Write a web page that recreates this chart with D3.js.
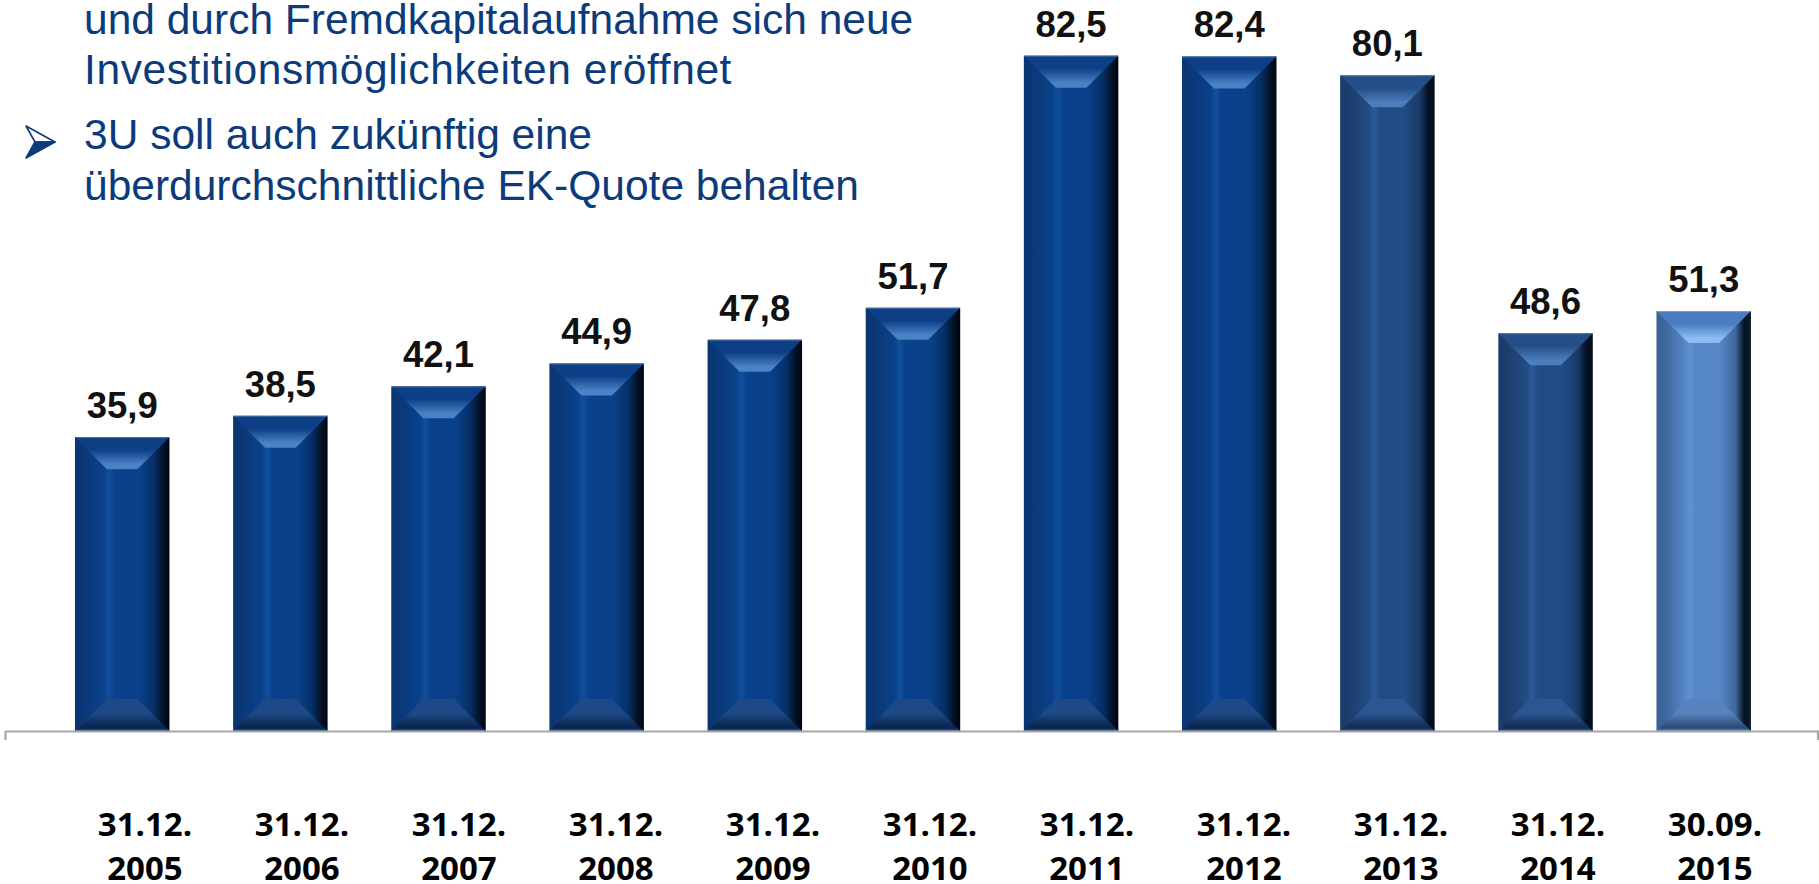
<!DOCTYPE html>
<html>
<head>
<meta charset="utf-8">
<script src="https://cdn.jsdelivr.net/npm/d3@7"></script>
<style>
  html, body { margin: 0; padding: 0; background: #ffffff; }
  svg { display: block; }
</style>
</head>
<body>
<svg id="chart" width="1819" height="884"></svg>
<script>
// ---------------- data ----------------
const categories = ["31.12.2005","31.12.2006","31.12.2007","31.12.2008","31.12.2009","31.12.2010","31.12.2011","31.12.2012","31.12.2013","31.12.2014","30.09.2015"];
const dayLabels  = ["31.12.","31.12.","31.12.","31.12.","31.12.","31.12.","31.12.","31.12.","31.12.","31.12.","30.09."];
const yearLabels = ["2005","2006","2007","2008","2009","2010","2011","2012","2013","2014","2015"];
const equityRatio = [35.9, 38.5, 42.1, 44.9, 47.8, 51.7, 82.5, 82.4, 80.1, 48.6, 51.3];
const textLines = [
  "und durch Fremdkapitalaufnahme sich neue",
  "Investitionsmöglichkeiten eröffnet",
  "3U soll auch zukünftig eine",
  "überdurchschnittliche EK-Quote behalten"
];

// ---------------- layout ----------------
const W = 1819, H = 884;
const baseY = 731;
const svg = d3.select("#chart");

const x = d3.scaleBand().domain(categories).range([11.7, 1814.2]).paddingInner(0.4025).paddingOuter(0.4);
const y = d3.scaleLinear().domain([0, 89.3]).range([baseY, 0]);
const xLab = d3.scalePoint().domain(categories).range([145, 1715]);

const fmt = d3.formatLocale({decimal: ",", thousands: ".", grouping: [3], currency: ["", "€"]}).format(".1f");

// ---------------- styles ----------------
const palettes = {
  A: {left:"#0b3674", streak:"#114f9e", mid:"#0a418a", dark:"#062e64", edge:"#000612",
      bevTop:"#0d3f86", bevLight:"#4a82c6", botTop:"#1d4a86", botDark:"#0b2650", botLine:"#3564a0"},
  B: {left:"#1a3c6a", streak:"#2c5a96", mid:"#224c84", dark:"#183b68", edge:"#040a16",
      bevTop:"#234e88", bevLight:"#4c7ebc", botTop:"#2b5690", botDark:"#152f55", botLine:"#3f6aa2"},
  C: {left:"#3a6496", streak:"#6092d2", mid:"#5586c6", dark:"#3e6698", edge:"#0e1a2c",
      bevTop:"#4a7cc0", bevLight:"#8cbcf4", botTop:"#5683bd", botDark:"#2e4e7a", botLine:"#6a98d0"}
};
const paletteFor = i => i < 8 ? "A" : (i < 10 ? "B" : "C");
const bevel = 32;

const defs = svg.append("defs");
Object.entries(palettes).forEach(([k, p]) => {
  const body = defs.append("linearGradient").attr("id", "body" + k).attr("x1", 0).attr("x2", 1).attr("y1", 0).attr("y2", 0);
  [[0, p.left], [0.06, p.left], [0.3, p.mid], [0.36, p.streak], [0.42, p.mid], [0.68, p.mid], [0.84, p.dark], [0.93, "#041226"], [1, p.edge]]
    .forEach(([o, c]) => body.append("stop").attr("offset", o).attr("stop-color", c));
  const top = defs.append("linearGradient").attr("id", "top" + k).attr("x1", 0).attr("x2", 0).attr("y1", 0).attr("y2", 1);
  [[0, p.bevTop], [0.4, p.bevTop], [0.85, p.bevLight], [1, p.bevLight]]
    .forEach(([o, c]) => top.append("stop").attr("offset", o).attr("stop-color", c));
  const bot = defs.append("linearGradient").attr("id", "bot" + k).attr("x1", 0).attr("x2", 0).attr("y1", 0).attr("y2", 1);
  [[0, p.botTop], [0.45, p.botTop], [0.85, p.botDark], [0.92, p.botDark], [1, p.botLine]]
    .forEach(([o, c]) => bot.append("stop").attr("offset", o).attr("stop-color", c));
});

// ---------------- text block ----------------
const textColor = "#0b3b7a";
const textY = [34, 84, 149, 200];
svg.append("g").selectAll("text").data(textLines).join("text")
  .attr("x", 84).attr("y", (d, i) => textY[i])
  .attr("font-family", "'Liberation Sans', Arial, sans-serif")
  .attr("font-size", 42.5).attr("fill", textColor)
  .attr("letter-spacing", (d, i) => i === 1 ? 0.6 : 0)
  .text(d => d);

// bullet arrow (3D arrowhead)
const arrow = svg.append("g");
arrow.append("path").attr("d", "M26,126 L55,142 L35,142 Z").attr("fill", "#ffffff").attr("stroke", textColor).attr("stroke-width", 1.6).attr("stroke-linejoin", "round");
arrow.append("path").attr("d", "M35,142 L55,142 L26,158 Z").attr("fill", textColor).attr("stroke", textColor).attr("stroke-width", 1.6).attr("stroke-linejoin", "round");

// ---------------- bars ----------------
const bars = svg.append("g").selectAll("g").data(equityRatio).join("g");
bars.each(function(v, i) {
  const g = d3.select(this);
  const k = paletteFor(i);
  const x0 = x(categories[i]), bw = x.bandwidth();
  const yt = y(v), yb = y(0);
  g.append("rect").attr("x", x0).attr("y", yt).attr("width", bw).attr("height", yb - yt).attr("fill", `url(#body${k})`);
  g.append("path")
    .attr("d", `M${x0},${yt} L${x0 + bw},${yt} L${x0 + bw - bevel},${yt + bevel} L${x0 + bevel},${yt + bevel} Z`)
    .attr("fill", `url(#top${k})`);
  g.append("path")
    .attr("d", `M${x0 + bevel},${yb - bevel} L${x0 + bw - bevel},${yb - bevel} L${x0 + bw},${yb} L${x0},${yb} Z`)
    .attr("fill", `url(#bot${k})`);
  g.append("line").attr("x1", x0).attr("x2", x0 + bw).attr("y1", yt + 0.5).attr("y2", yt + 0.5).attr("stroke", "#ffffff").attr("stroke-opacity", 0.25);
});

// value labels
svg.append("g").selectAll("text").data(equityRatio).join("text")
  .attr("x", (d, i) => x(categories[i]) + x.bandwidth() / 2)
  .attr("y", d => y(d) - 19)
  .attr("text-anchor", "middle")
  .attr("font-family", "'Liberation Sans', Arial, sans-serif")
  .attr("font-weight", "bold").attr("font-size", 36.5).attr("fill", "#111111")
  .text(d => fmt(d));

// ---------------- axis ----------------
const axis = svg.append("g").attr("stroke", "#a6a6a6").attr("stroke-width", 2.2);
axis.append("line").attr("x1", 5).attr("x2", W).attr("y1", baseY + 0.5).attr("y2", baseY + 0.5);
axis.append("line").attr("x1", 5.5).attr("x2", 5.5).attr("y1", baseY).attr("y2", baseY + 9);
axis.append("line").attr("x1", W - 1).attr("x2", W - 1).attr("y1", baseY).attr("y2", baseY + 9);

// category labels
const lab = svg.append("g").selectAll("text").data(categories).join("text")
  .attr("text-anchor", "middle")
  .attr("font-family", "'Open Sans', 'Noto Sans', sans-serif")
  .attr("font-weight", "bold").attr("font-size", 33).attr("fill", "#000000");
lab.append("tspan").attr("x", d => xLab(d)).attr("y", 836).text((d, i) => dayLabels[i]);
lab.append("tspan").attr("x", d => xLab(d)).attr("y", 880).text((d, i) => yearLabels[i]);
</script>
</body>
</html>
